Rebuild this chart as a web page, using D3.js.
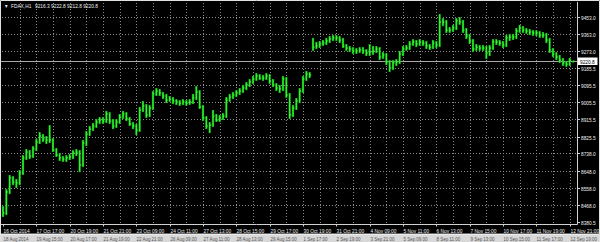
<!DOCTYPE html>
<html>
<head>
<meta charset="utf-8">
<script src="https://cdn.jsdelivr.net/npm/d3@7"></script>
<style>
  html, body { margin: 0; padding: 0; background: #000; overflow: hidden; }
</style>
</head>
<body>
<div id="chart"></div>
<script>
//Chart data
const symbolTitle = "FDAX,H1";
const lastOHLC = ["9216.3", "9222.8", "9212.8", "9220.8"];
const bidPrice = 9220.8;

const timeLabels = ["16 Oct 2014", "17 Oct 17:00", "20 Oct 19:00", "21 Oct 21:00", "23 Oct 09:00",
  "24 Oct 11:00", "27 Oct 13:00", "28 Oct 15:00", "29 Oct 17:00", "30 Oct 19:00", "31 Oct 21:00",
  "4 Nov 09:00", "5 Nov 11:00", "6 Nov 13:00", "7 Nov 15:00", "10 Nov 17:00", "11 Nov 19:00", "12 Nov 21:00"];

const footerLabels = ["18 Aug 2014", "19 Aug 15:00", "20 Aug 17:00", "21 Aug 19:00", "22 Aug 21:00",
  "26 Aug 09:00", "27 Aug 11:00", "28 Aug 13:00", "29 Aug 15:00", "1 Sep 17:00", "2 Sep 19:00",
  "3 Sep 21:00", "5 Sep 09:00", "8 Sep 11:00", "9 Sep 13:00", "10 Sep 15:00", "11 Sep 17:00", "12 Sep 19:00"];

const priceTicks = [9453.0, 9363.0, 9273.0, 9185.5, 9095.5, 9005.5, 8915.5,
  8825.5, 8738.0, 8648.0, 8558.0, 8468.0, 8380.5];

//Hourly bars, oldest first
const barHigh = [
  8462, 8551, 8625, 8619, 8604, 8651, 8729, 8761, 8755, 8776,
  8813, 8850, 8839, 8829, 8886, 8818, 8766, 8740, 8724, 8729,
  8735, 8755, 8761, 8755, 8808, 8855, 8881, 8897, 8918, 8928,
  8928, 8960, 8954, 8918, 8918, 8944, 8960, 8954, 8928, 8902,
  8892, 8981, 9012, 8996, 8991, 9064, 9080, 9075, 9059, 9049,
  9038, 9033, 9022, 9017, 9022, 9017, 9022, 9049, 9090, 9069,
  8991, 8933, 8902, 8965, 8944, 8939, 8949, 9033, 9049, 9059,
  9069, 9080, 9096, 9111, 9127, 9143, 9158, 9153, 9148, 9158,
  9153, 9127, 9106, 9096, 9143, 9138, 9054, 8991, 9028, 9080,
  9143, 9169, 9164, 9342, 9321, 9326, 9331, 9342, 9352, 9357,
  9357, 9352, 9342, 9310, 9300, 9294, 9289, 9294, 9294, 9284,
  9310, 9300, 9300, 9294, 9268, 9263, 9226, 9226, 9232, 9274,
  9300, 9305, 9326, 9336, 9331, 9336, 9331, 9326, 9310, 9331,
  9326, 9467, 9446, 9436, 9399, 9410, 9446, 9451, 9436, 9394,
  9363, 9336, 9310, 9305, 9305, 9300, 9305, 9336, 9336, 9331,
  9326, 9357, 9363, 9363, 9394, 9410, 9404, 9394, 9389, 9383,
  9383, 9378, 9373, 9368, 9342, 9289, 9268, 9253, 9237, 9221,
  9237, 9222.8];

const barLow = [
  8405, 8415, 8525, 8572, 8557, 8572, 8625, 8703, 8708, 8714,
  8750, 8787, 8797, 8787, 8792, 8745, 8719, 8698, 8693, 8693,
  8703, 8708, 8724, 8640, 8667, 8776, 8829, 8855, 8871, 8892,
  8892, 8897, 8892, 8865, 8871, 8892, 8918, 8907, 8881, 8865,
  8834, 8850, 8954, 8923, 8928, 8965, 9038, 9038, 9022, 9001,
  9007, 8996, 8991, 8986, 8991, 8986, 8991, 8996, 9017, 8970,
  8907, 8865, 8844, 8876, 8902, 8902, 8912, 8923, 9007, 9022,
  9033, 9043, 9054, 9069, 9085, 9101, 9117, 9122, 9117, 9122,
  9101, 9085, 9064, 9054, 9064, 9028, 8918, 8928, 8965, 9001,
  9054, 9117, 9132, 9274, 9284, 9289, 9300, 9305, 9315, 9326,
  9326, 9315, 9289, 9274, 9268, 9258, 9258, 9263, 9258, 9247,
  9247, 9253, 9263, 9226, 9232, 9200, 9164, 9174, 9195, 9205,
  9247, 9274, 9279, 9300, 9294, 9300, 9300, 9284, 9279, 9284,
  9289, 9294, 9404, 9368, 9368, 9373, 9383, 9410, 9368, 9336,
  9310, 9268, 9274, 9274, 9274, 9232, 9247, 9279, 9305, 9300,
  9289, 9294, 9326, 9331, 9336, 9368, 9368, 9363, 9357, 9352,
  9352, 9342, 9342, 9315, 9263, 9242, 9226, 9211, 9195, 9190,
  9195, 9212.8];

const barClose = [
  8426, 8536, 8609, 8588, 8583, 8635, 8714, 8745, 8724, 8761,
  8797, 8829, 8813, 8808, 8808, 8755, 8729, 8714, 8708, 8714,
  8719, 8740, 8745, 8677, 8792, 8839, 8865, 8881, 8902, 8912,
  8907, 8944, 8907, 8881, 8902, 8928, 8944, 8918, 8892, 8881,
  8860, 8965, 8986, 8939, 8975, 9049, 9064, 9054, 9038, 9017,
  9022, 9012, 9007, 9001, 9007, 9001, 9007, 9028, 9059, 8981,
  8923, 8881, 8886, 8933, 8912, 8923, 8933, 9017, 9033, 9043,
  9054, 9064, 9080, 9096, 9111, 9127, 9143, 9132, 9132, 9143,
  9117, 9096, 9080, 9075, 9127, 9043, 8939, 8975, 9012, 9064,
  9127, 9153, 9148, 9294, 9300, 9310, 9315, 9326, 9336, 9342,
  9342, 9331, 9300, 9289, 9284, 9274, 9274, 9279, 9274, 9263,
  9268, 9274, 9284, 9242, 9253, 9216, 9185, 9211, 9216, 9258,
  9284, 9289, 9310, 9321, 9310, 9321, 9315, 9300, 9294, 9315,
  9305, 9425, 9425, 9383, 9383, 9394, 9431, 9425, 9383, 9352,
  9326, 9284, 9294, 9289, 9289, 9263, 9289, 9321, 9321, 9315,
  9305, 9342, 9347, 9347, 9378, 9394, 9383, 9378, 9373, 9368,
  9368, 9357, 9357, 9331, 9279, 9258, 9242, 9226, 9211, 9205,
  9226, 9220.8];

//Chart Variables and Constants
const width = 600;
const height = 242;
const plotRight = 577.5;
const plotBottom = 224.5;
const barsPerLabel = 10;
const font = "'Liberation Sans', Arial, sans-serif";

const svg = d3
  .select("#chart")
  .append("svg")
  .attr("width", width)
  .attr("height", height)
  .style("display", "block")
  .style("background-color", "#000");

//Scales
const bars = barClose.map((c, i) => ({ i, high: barHigh[i], low: barLow[i], close: c }));
const x = d3.scaleLinear().domain([0, bars.length - 1]).range([3, 573]);
const y = d3.scaleLinear().domain([8380.5, 9453]).range([221.7, 16.7]);

//Narrow text like the terminal font
function narrowText(g, tx, ty, str, fill, size) {
  return g
    .append("text")
    .attr("transform", `translate(${tx},${ty}) scale(0.86,1)`)
    .attr("font-family", font)
    .attr("font-size", size || 5.6)
    .attr("fill", fill)
    .text(str);
}

//Grid
const grid = svg.append("g").attr("stroke", "#8c8c8c").attr("stroke-dasharray", "1,2");

grid
  .selectAll(".hgrid")
  .data(priceTicks.slice(0, -1))
  .enter()
  .append("line")
  .attr("x1", 2)
  .attr("x2", plotRight)
  .attr("y1", (d) => Math.round(y(d)) + 0.5)
  .attr("y2", (d) => Math.round(y(d)) + 0.5);

grid
  .selectAll(".vgrid")
  .data(d3.range(barsPerLabel / 2, bars.length, barsPerLabel / 2))
  .enter()
  .append("line")
  .attr("x1", (d) => Math.round(x(d)) + 0.5)
  .attr("x2", (d) => Math.round(x(d)) + 0.5)
  .attr("y1", 3)
  .attr("y2", plotBottom);

//Bid line
svg
  .append("line")
  .attr("x1", 1)
  .attr("x2", plotRight)
  .attr("y1", Math.round(y(bidPrice)) + 0.5)
  .attr("y2", Math.round(y(bidPrice)) + 0.5)
  .attr("stroke", "#a8a8a8")
  .attr("stroke-width", 1);

//Bars
const barGroup = svg.append("g");

barGroup
  .selectAll(".bar-outer")
  .data(bars)
  .enter()
  .append("line")
  .attr("x1", (d) => x(d.i))
  .attr("x2", (d) => x(d.i))
  .attr("y1", (d) => y(d.high))
  .attr("y2", (d) => y(d.low))
  .attr("stroke", "#0aa30a")
  .attr("stroke-width", 2.2);

barGroup
  .selectAll(".bar-inner")
  .data(bars)
  .enter()
  .append("line")
  .attr("x1", (d) => x(d.i))
  .attr("x2", (d) => x(d.i))
  .attr("y1", (d) => y(d.high) + 0.5)
  .attr("y2", (d) => y(d.low) - 0.5)
  .attr("stroke", "#3cff3c")
  .attr("stroke-width", 1);

barGroup
  .selectAll(".bar-close")
  .data(bars)
  .enter()
  .append("line")
  .attr("x1", (d) => x(d.i))
  .attr("x2", (d) => x(d.i) + 1.6)
  .attr("y1", (d) => y(d.close))
  .attr("y2", (d) => y(d.close))
  .attr("stroke", "#3cff3c")
  .attr("stroke-width", 1);

//Axes frame
svg
  .append("path")
  .attr("d", `M0,${plotBottom}H${plotRight}V2`)
  .attr("fill", "none")
  .attr("stroke", "#d0d0d0")
  .attr("stroke-width", 1);

//Price axis
const priceAxis = svg.append("g");
priceTicks.forEach((p) => {
  const py = Math.round(y(p)) + 0.5;
  priceAxis
    .append("line")
    .attr("x1", plotRight)
    .attr("x2", plotRight + 2.5)
    .attr("y1", py)
    .attr("y2", py)
    .attr("stroke", "#d0d0d0");
  narrowText(priceAxis, 581, py + 2, d3.format(".1f")(p), "#f0f0f0");
});

//Bid label
const bidY = Math.round(y(bidPrice)) + 0.5;
svg
  .append("rect")
  .attr("x", 578)
  .attr("y", bidY - 4)
  .attr("width", 19.5)
  .attr("height", 7.5)
  .attr("fill", "#ffffff");
narrowText(svg, 580, bidY + 2, d3.format(".1f")(bidPrice), "#000");

//Time axis
const timeAxis = svg.append("g");
timeLabels.forEach((t, k) => {
  const tx = Math.round(x(k * barsPerLabel)) + 0.5;
  timeAxis
    .append("line")
    .attr("x1", tx)
    .attr("x2", tx)
    .attr("y1", plotBottom)
    .attr("y2", plotBottom + 2)
    .attr("stroke", "#d0d0d0");
  narrowText(timeAxis, tx, 232.6, t, "#f0f0f0");
});

//Bottom strip
svg.append("clipPath").attr("id", "strip-clip")
  .append("rect").attr("x", 0).attr("y", 233.5).attr("width", width).attr("height", 8.5);
const strip = svg.append("g").attr("clip-path", "url(#strip-clip)");
strip
  .append("rect")
  .attr("x", 0)
  .attr("y", 233.5)
  .attr("width", width)
  .attr("height", 8.5)
  .attr("fill", "#d8d8d8");
strip
  .append("rect")
  .attr("x", 0)
  .attr("y", 233.5)
  .attr("width", width)
  .attr("height", 1)
  .attr("fill", "#ffffff");
footerLabels.forEach((t, k) => {
  narrowText(strip, Math.round(x(k * barsPerLabel)) + 0.5, 240.5, t, "#555", 5.2);
});

//Title
narrowText(svg, 5, 8, "\u25BE", "#f0f0f0", 5.6);
narrowText(svg, 11, 8, symbolTitle, "#f0f0f0");
narrowText(svg, 35, 8, lastOHLC.join(" "), "#f0f0f0");

//Window border
svg
  .append("path")
  .attr("d", `M0.5,${height}V0.5H599.5V${height}`)
  .attr("fill", "none")
  .attr("stroke", "#e0e0e0")
  .attr("stroke-width", 1);
</script>
</body>
</html>
